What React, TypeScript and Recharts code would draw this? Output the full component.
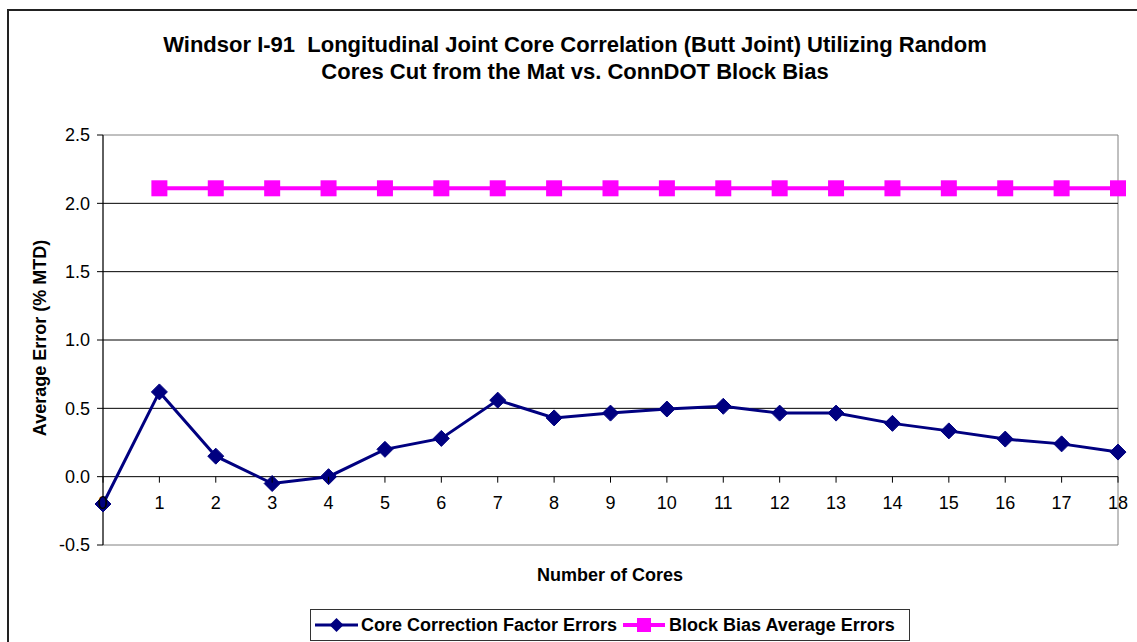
import React from "react";
import {
  LineChart,
  Line,
  XAxis,
  YAxis,
  ReferenceLine,
  ReferenceArea,
} from "recharts";

// ---- data ----
const cores = ["0", "1", "2", "3", "4", "5", "6", "7", "8", "9", "10", "11", "12", "13", "14", "15", "16", "17", "18"];
const coreCorrectionErrors = [
  -0.2, 0.62, 0.15, -0.05, 0.0, 0.2, 0.28, 0.56, 0.43, 0.465, 0.495, 0.515, 0.465, 0.465, 0.39, 0.335, 0.275, 0.24, 0.18,
];
const blockBiasErrors: (number | null)[] = [
  null, 2.11, 2.11, 2.11, 2.11, 2.11, 2.11, 2.11, 2.11, 2.11, 2.11, 2.11, 2.11, 2.11, 2.11, 2.11, 2.11, 2.11, 2.11,
];
const yTicks = [-0.5, 0, 0.5, 1.0, 1.5, 2.0, 2.5];
const gridValues = [0.5, 1.0, 1.5, 2.0];

const titleLines = [
  "Windsor I-91  Longitudinal Joint Core Correlation (Butt Joint) Utilizing Random",
  "Cores Cut from the Mat vs. ConnDOT Block Bias",
];
const yLabel = "Average Error (% MTD)";
const xLabel = "Number of Cores";
const seriesNames = ["Core Correction Factor Errors", "Block Bias Average Errors"];

const data = cores.map((c, i) => ({
  cores: c,
  core: coreCorrectionErrors[i],
  block: blockBiasErrors[i],
}));

// ---- layout ----
const W = 1137;
const H = 642;
const PLOT_LEFT = 103;
const PLOT_TOP = 135;
const PLOT_RIGHT = 1118;
const PLOT_BOTTOM = 545;
const PLOT_H = PLOT_BOTTOM - PLOT_TOP;
const Y_MIN = -0.5;
const Y_MAX = 2.5;
const FONT = "Arial, 'Liberation Sans', Helvetica, sans-serif";
const NAVY = "#000080";
const MAGENTA = "#FF00FF";
const TICK_FS = 18;

const XTick = (props: any) => {
  const { x, payload } = props;
  const y0 = PLOT_TOP + (PLOT_H * (Y_MAX - 0)) / (Y_MAX - Y_MIN);
  return (
    <g>
      <line x1={x} x2={x} y1={y0} y2={y0 + 6} stroke="#000" strokeWidth={1} />
      <text
        x={x}
        y={y0 + 26}
        textAnchor="middle"
        dominantBaseline="central"
        fontSize={TICK_FS}
        fontFamily={FONT}
        fill="#000"
      >
        {payload.value}
      </text>
    </g>
  );
};

const Diamond = (props: any) => {
  const { cx, cy, index } = props;
  if (cx == null || cy == null) return <g key={`d-${index}`} />;
  const r = 8;
  return (
    <polygon
      key={`d-${index}`}
      points={`${cx},${cy - r} ${cx + r},${cy} ${cx},${cy + r} ${cx - r},${cy}`}
      fill={NAVY}
      stroke={NAVY}
      strokeWidth={1}
    />
  );
};

const Square = (props: any) => {
  const { cx, cy, index } = props;
  if (cx == null || cy == null) return <g key={`s-${index}`} />;
  const s = 16;
  return (
    <rect key={`s-${index}`} x={cx - s / 2} y={cy - s / 2} width={s} height={s} fill={MAGENTA} stroke="none" />
  );
};

export default function App() {
  return (
    <div
      style={{
        position: "fixed",
        left: 0,
        top: 0,
        width: W,
        height: H,
        overflow: "hidden",
        background: "#fff",
        fontFamily: FONT,
      }}
    >
      {/* outer chart border */}
      <div
        style={{
          position: "absolute",
          left: 7,
          top: 9,
          width: W - 7,
          height: H - 9,
          boxSizing: "border-box",
          borderLeft: "2px solid #222",
          borderTop: "2px solid #222",
        }}
      />
      {/* title */}
      <div
        style={{
          position: "absolute",
          left: 0,
          top: 31,
          width: 1150,
          textAlign: "center",
          fontWeight: "bold",
          fontSize: 22,
          lineHeight: "27px",
          color: "#000",
        }}
      >
        {titleLines.map((t, i) => (
          <div key={i} style={{ whiteSpace: "pre" }}>
            {t}
          </div>
        ))}
      </div>
      <div style={{ position: "absolute", left: 0, top: 0 }}>
        <LineChart
          width={W}
          height={H}
          data={data}
          margin={{ top: PLOT_TOP, right: W - PLOT_RIGHT, left: 0, bottom: H - PLOT_BOTTOM - 30 }}
        >
          <ReferenceArea
            x1="0"
            x2="18"
            y1={Y_MIN}
            y2={Y_MAX}
            fill="none"
            fillOpacity={0}
            stroke="#808080"
            strokeWidth={1}
            ifOverflow="visible"
          />
          {gridValues.map((v) => (
            <ReferenceLine key={v} y={v} stroke="#000" strokeWidth={1} />
          ))}
          <ReferenceLine y={0} stroke="#000" strokeWidth={1} />
          <XAxis
            dataKey="cores"
            type="category"
            height={30}
            axisLine={false}
            tickLine={false}
            interval={0}
            tick={<XTick />}
          />
          <YAxis
            type="number"
            domain={[Y_MIN, Y_MAX]}
            ticks={yTicks}
            width={PLOT_LEFT}
            interval={0}
            tickFormatter={(v: number) => v.toFixed(1)}
            axisLine={{ stroke: "#000", strokeWidth: 1 }}
            tickLine={{ stroke: "#000" }}
            tickSize={6}
            tickMargin={7}
            tick={{ fill: "#000", fontSize: TICK_FS, fontFamily: FONT }}
          />
          <Line
            dataKey="core"
            name={seriesNames[0]}
            stroke={NAVY}
            strokeWidth={3}
            dot={(p: any) => <Diamond {...p} />}
            isAnimationActive={false}
          />
          <Line
            dataKey="block"
            name={seriesNames[1]}
            stroke={MAGENTA}
            strokeWidth={4}
            dot={(p: any) => <Square {...p} />}
            connectNulls={false}
            isAnimationActive={false}
          />
        </LineChart>
      </div>
      {/* y axis title */}
      <div
        style={{
          position: "absolute",
          left: 40,
          top: 338,
          transform: "translate(-50%, -50%) rotate(-90deg)",
          whiteSpace: "nowrap",
          fontWeight: "bold",
          fontSize: 18,
          color: "#000",
        }}
      >
        {yLabel}
      </div>
      {/* x axis title */}
      <div
        style={{
          position: "absolute",
          left: 610,
          top: 575,
          transform: "translate(-50%, -50%)",
          whiteSpace: "nowrap",
          fontWeight: "bold",
          fontSize: 18,
          color: "#000",
        }}
      >
        {xLabel}
      </div>
      {/* legend */}
      <div
        style={{
          position: "absolute",
          left: 310,
          top: 609,
          width: 600,
          height: 32,
          boxSizing: "border-box",
          border: "1px solid #333",
          display: "flex",
          alignItems: "center",
          fontWeight: "bold",
          fontSize: 18,
          color: "#000",
          whiteSpace: "nowrap",
        }}
      >
        <svg width={43} height={18} style={{ marginLeft: 4, flex: "none" }}>
          <line x1={0} x2={43} y1={9} y2={9} stroke={NAVY} strokeWidth={3} />
          <polygon points="21.5,2 28.5,9 21.5,16 14.5,9" fill={NAVY} />
        </svg>
        <span style={{ marginLeft: 3 }}>{seriesNames[0]}</span>
        <svg width={42} height={18} style={{ marginLeft: 6, flex: "none" }}>
          <line x1={0} x2={42} y1={9} y2={9} stroke={MAGENTA} strokeWidth={4} />
          <rect x={14} y={2} width={14} height={14} fill={MAGENTA} />
        </svg>
        <span style={{ marginLeft: 4 }}>{seriesNames[1]}</span>
      </div>
    </div>
  );
}
